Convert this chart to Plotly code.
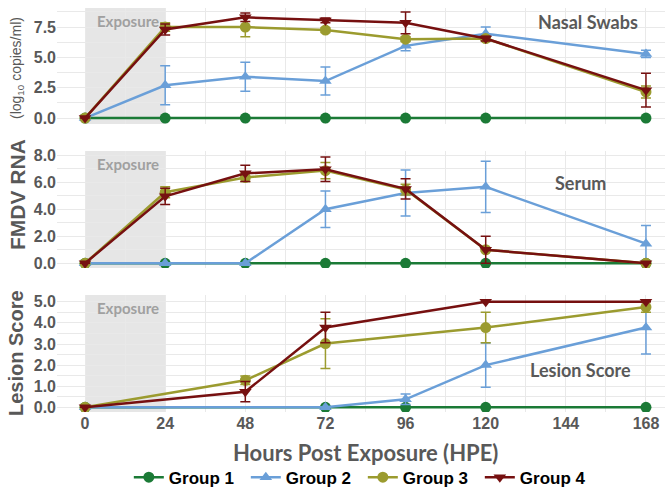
import plotly.graph_objects as go

# ---------------- data ----------------
hours_all = [0, 24, 48, 72, 96, 120, 168]
groups = ["Group 1", "Group 2", "Group 3", "Group 4"]
colors = ["#1b7a36", "#6a9fd8", "#9b9b2f", "#761010"]
symbols = ["circle", "triangle-up", "circle", "triangle-down"]

# Nasal swabs (log10 copies/ml)
nasal_x = [hours_all, hours_all, hours_all, hours_all]
nasal_y = [
    [0, 0, 0, 0, 0, 0, 0],
    [0, 2.7, 3.4, 3.05, 5.95, 6.95, 5.28],
    [0, 7.5, 7.5, 7.25, 6.5, 6.55, 2.15],
    [0, 7.3, 8.3, 8.05, 7.85, 6.55, 2.3],
]
nasal_err = [
    [0, 0, 0, 0, 0, 0, 0],
    [0, 1.6, 1.2, 1.15, 0.4, 0.55, 0.3],
    [0, 0.35, 0.8, 0.2, 0.2, 0.15, 0.5],
    [0, 0.45, 0.35, 0.2, 0.9, 0.2, 1.4],
]

# Serum (log10 copies/ml)
serum_x = [hours_all, hours_all, hours_all, hours_all]
serum_y = [
    [0, 0, 0, 0, 0, 0, 0],
    [0, 0, 0, 4.0, 5.2, 5.65, 1.45],
    [0, 5.25, 6.35, 6.85, 5.45, 1.0, 0],
    [0, 4.95, 6.65, 6.95, 5.5, 1.0, 0],
]
serum_err = [
    [0, 0, 0, 0, 0, 0, 0],
    [0, 0, 0, 1.35, 1.7, 1.9, 1.35],
    [0, 0.4, 0.3, 0.6, 0.4, 0.1, 0],
    [0, 0.6, 0.6, 0.9, 0.75, 1.0, 0],
]

# Lesion score
lesion_x = [
    [0, 72, 96, 120, 168],
    [0, 72, 96, 120, 168],
    [0, 48, 72, 120, 168],
    [0, 48, 72, 120, 168],
]
lesion_y = [
    [0, 0, 0, 0, 0],
    [0, 0, 0.38, 2.0, 3.78],
    [0, 1.28, 3.02, 3.78, 4.75],
    [0, 0.74, 3.78, 5.0, 5.0],
]
lesion_err = [
    [0, 0, 0, 0, 0],
    [0, 0, 0.25, 1.05, 1.25],
    [0, 0.2, 1.18, 0.72, 0.25],
    [0, 0.48, 0.72, 0, 0],
]

x_ticks = [0, 24, 48, 72, 96, 120, 144, 168]
panel_labels = ["Nasal Swabs", "Serum", "Lesion Score"]

# ---------------- figure ----------------
fig = go.Figure()

panels = [
    ("y", nasal_x, nasal_y, nasal_err),
    ("y2", serum_x, serum_y, serum_err),
    ("y3", lesion_x, lesion_y, lesion_err),
]
for pi, (yax, xs, ys, es) in enumerate(panels):
    for gi in range(4):
        fig.add_trace(go.Scatter(
            x=xs[gi], y=ys[gi], xaxis="x", yaxis=yax,
            mode="lines+markers",
            name=groups[gi], legendgroup=groups[gi], showlegend=(pi == 0),
            line=dict(color=colors[gi], width=2.5),
            marker=dict(symbol=symbols[gi], size=11, color=colors[gi]),
            error_y=dict(type="data", array=es[gi], visible=True,
                         color=colors[gi], thickness=1.5, width=5),
        ))

tick_font = dict(family="Liberation Sans, Arial", size=16, color="#585858", weight="bold")
grid_c = "#e9e9e9"

fig.update_layout(
    width=669, height=495,
    margin=dict(l=57, r=4, t=8, b=83, autoexpand=False),
    paper_bgcolor="white", plot_bgcolor="white",
    showlegend=True,
    legend=dict(orientation="h", x=0.503, xanchor="center", y=-0.118, yanchor="top",
                font=dict(family="Liberation Sans, Arial", size=17, color="black", weight="bold"),
                itemwidth=30, tracegroupgap=0, entrywidth=72, entrywidthmode="pixels"),
    xaxis=dict(range=[-8.4, 173.7], anchor="y3", tickvals=x_ticks,
               tickfont=tick_font, showgrid=True, gridcolor=grid_c,
               minor=dict(dtick=12, tick0=0, showgrid=True, gridcolor=grid_c),
               zeroline=False, showline=False, ticks=""),
    yaxis=dict(domain=[0.7129, 1.0], range=[-0.49, 9.07], tickvals=[0, 2.5, 5, 7.5],
               tickformat=".1f", tickfont=tick_font, gridcolor=grid_c, zeroline=False,
               minor=dict(dtick=1.25, tick0=0, showgrid=True, gridcolor=grid_c)),
    yaxis2=dict(domain=[0.3564, 0.646], range=[-0.35, 8.3], tickvals=[0, 2, 4, 6, 8],
                tickformat=".1f", tickfont=tick_font, gridcolor=grid_c, zeroline=False,
                minor=dict(dtick=1, tick0=0, showgrid=True, gridcolor=grid_c)),
    yaxis3=dict(domain=[0.0, 0.2896], range=[-0.22, 5.32], tickvals=[0, 1, 2, 3, 4, 5],
                tickformat=".1f", tickfont=tick_font, gridcolor=grid_c, zeroline=False,
                minor=dict(dtick=0.5, tick0=0, showgrid=True, gridcolor=grid_c)),
)

# exposure shading + labels
for yax in ["y", "y2", "y3"]:
    fig.add_shape(type="rect", xref="x", yref=f"{yax} domain", x0=0, x1=24, y0=0, y1=1,
                  fillcolor="#dcdcdc", opacity=0.7, line_width=0, layer="below")
    fig.add_annotation(xref="x", yref=f"{yax} domain", x=3, y=0.985, xanchor="left", yanchor="top",
                       text="<b>Exposure</b>", showarrow=False,
                       font=dict(family="Lato, Open Sans", size=15, color="#a0a0a0"))

# panel labels
label_pos = [("y", 588, 22), ("y2", 580, 183), ("y3", 580, 370)]
for (yax, px, py), txt in zip(label_pos, panel_labels):
    fig.add_annotation(xref="paper", yref="paper", x=(px - 57) / 608, y=(412 - py) / 404,
                       xanchor="center", yanchor="middle", text=f"<b>{txt}</b>", showarrow=False,
                       font=dict(family="Lato, Open Sans", size=18, color="#595959"))

# axis titles
fig.add_annotation(xref="paper", yref="paper", x=(17 - 57) / 608, y=(412 - 195) / 404,
                   xanchor="center", yanchor="middle", textangle=-90, showarrow=False,
                   text="<b>FMDV RNA</b>",
                   font=dict(family="Liberation Sans, Arial", size=21, color="#585858"))
fig.add_annotation(xref="paper", yref="paper", x=(17 - 57) / 608, y=(412 - 68) / 404,
                   xanchor="center", yanchor="middle", textangle=-90, showarrow=False,
                   text="(log<sub>10</sub> copies/ml)",
                   font=dict(family="Liberation Sans, Arial", size=14, color="#585858"))
fig.add_annotation(xref="paper", yref="paper", x=(16 - 57) / 608, y=(412 - 353) / 404,
                   xanchor="center", yanchor="middle", textangle=-90, showarrow=False,
                   text="<b>Lesion Score</b>",
                   font=dict(family="Liberation Sans, Arial", size=20, color="#585858"))
fig.add_annotation(xref="paper", yref="paper", x=(365 - 57) / 608, y=(412 - 452) / 404,
                   xanchor="center", yanchor="middle", showarrow=False,
                   text="<b>Hours Post Exposure (HPE)</b>",
                   font=dict(family="Lato, Open Sans", size=22, color="#595959"))

fig.write_html("out.html")
